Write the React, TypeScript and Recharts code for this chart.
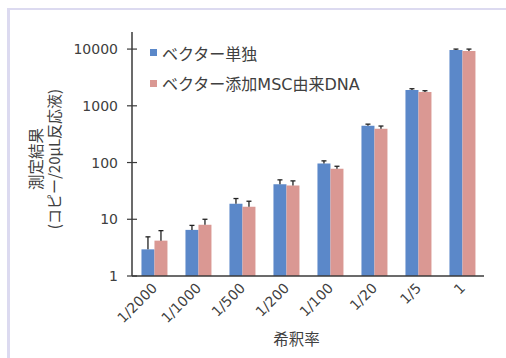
import React from 'react';
import { BarChart, Bar, XAxis, YAxis, Legend } from 'recharts';

const categories = ['1/2000', '1/1000', '1/500', '1/200', '1/100', '1/20', '1/5', '1'];
const vectorOnly = [2.95, 6.5, 18.8, 41.5, 96, 445, 1890, 9600];
const vectorOnlyErr = [1.95, 1.3, 4.4, 8, 11, 30, 110, 400];
const vectorMsc = [4.2, 8.0, 16.6, 39.4, 77.5, 395, 1745, 9220];
const vectorMscErr = [2.1, 2.0, 4.2, 8.1, 8.5, 45, 100, 780];
const yTicks = [1, 10, 100, 1000, 10000];
const seriesNames = ['ベクター単独', 'ベクター添加MSC由来DNA'];
const seriesColors = ['#5b88c9', '#da9893'];
const yLabelLines = ['測定結果', '(コピー/20μL反応液)'];
const xLabel = '希釈率';

const data = categories.map((name, i) => ({
  name,
  a: vectorOnly[i],
  b: vectorMsc[i],
  aErr: [vectorOnly[i], vectorOnly[i] + vectorOnlyErr[i]],
  bErr: [vectorMsc[i], vectorMsc[i] + vectorMscErr[i]],
}));

const TEXT = '#404040';
const AXIS = '#3a3a3a';
const NUM_FONT = '"DejaVu Sans", sans-serif';
const JP_FONT = '"Noto Sans CJK JP", "Noto Sans", sans-serif';
const MIX_FONT = '"DejaVu Sans", "Noto Sans CJK JP", sans-serif';

const YTick = (props: any) => {
  const { x, y, payload } = props;
  return (
    <g>
      <line x1={x - 5} x2={x + 5} y1={y} y2={y} stroke={AXIS} strokeWidth={1.2} />
      <text x={x - 14} y={y} dy="0.36em" textAnchor="end" fill={TEXT} fontSize={14} fontFamily={NUM_FONT}>
        {payload.value}
      </text>
    </g>
  );
};

const XTick = (props: any) => {
  const { x, y, payload } = props;
  const tx = x + 4;
  const ty = y + 13;
  return (
    <text x={tx} y={ty} textAnchor="end" fill={TEXT} fontSize={14} fontFamily={NUM_FONT} transform={`rotate(-45, ${tx}, ${ty})`}>
      {payload.value}
    </text>
  );
};

const ErrShape = (props: any) => {
  const { x, y, width, height } = props;
  if (x == null || y == null) return null;
  const cx = x + width / 2;
  return (
    <g>
      <line x1={cx} x2={cx} y1={y} y2={y + height} stroke="#222" strokeWidth={1.3} />
      <line x1={cx - 2.5} x2={cx + 2.5} y1={y} y2={y} stroke="#222" strokeWidth={1.3} />
    </g>
  );
};

const YLabel = (props: any) => {
  const vb = props.viewBox || { x: 0, y: 32, width: 132, height: 244 };
  const cy = vb.y + vb.height / 2 + 5;
  const xs = [34.5, 53.5];
  return (
    <g>
      {yLabelLines.map((t, i) => (
        <text key={i} x={xs[i]} y={cy} textAnchor="middle" dominantBaseline="central" fill={TEXT} fontSize={i === 0 ? 15.5 : 15} fontFamily={JP_FONT} transform={`rotate(-90, ${xs[i]}, ${cy})`}>
          {t}
        </text>
      ))}
    </g>
  );
};

const XLabel = (props: any) => {
  const vb = props.viewBox;
  const cx = vb.x + vb.width / 2 - 11.5;
  return (
    <text x={cx} y={345} textAnchor="middle" fill={TEXT} fontSize={15.5} fontFamily={JP_FONT}>
      {xLabel}
    </text>
  );
};

const LegendContent = () => (
  <div style={{ fontFamily: MIX_FONT, fontSize: 16, color: TEXT }}>
    {seriesNames.map((n, i) => (
      <div key={n} style={{ display: 'flex', alignItems: 'center', height: 30.6, whiteSpace: 'nowrap' }}>
        <span style={{ display: 'inline-block', width: 7, height: 7, background: seriesColors[i], marginRight: 5 }} />
        <span>{n}</span>
      </div>
    ))}
  </div>
);

export default function App() {
  return (
    <div style={{ position: 'fixed', left: 0, top: 0, width: 506, height: 358, background: '#fff', overflow: 'hidden' }}>
      <div style={{ position: 'absolute', left: 7, top: 8, width: 560, height: 420, borderTop: '2px solid #dcdaf0', borderLeft: '3px solid #dcdaf0' }} />
      <div style={{ position: 'absolute', left: 0, top: 0 }}>
        <BarChart width={506} height={358} data={data} margin={{ top: 32, right: 22, bottom: 0, left: 0 }} barCategoryGap="21.5%" barGap={0}>
          <XAxis dataKey="name" height={82} tickLine={false} tickSize={0} tickMargin={0} tick={<XTick />} axisLine={{ stroke: AXIS, strokeWidth: 1.5 }} interval={0} label={<XLabel />} />
          <XAxis xAxisId="err" dataKey="name" orientation="top" height={0} tick={false} tickLine={false} axisLine={{ stroke: AXIS, strokeWidth: 1.2 }} />
          <YAxis scale="log" type="number" domain={[1, 20000]} allowDataOverflow ticks={yTicks} width={132} tickLine={false} tickSize={0} tickMargin={0} tick={<YTick />} axisLine={{ stroke: AXIS, strokeWidth: 1.5 }} label={<YLabel />} />
          <YAxis yAxisId="right" orientation="right" type="number" domain={[1, 20000]} width={0} tick={false} tickLine={false} axisLine={{ stroke: AXIS, strokeWidth: 1.2 }} />
          <Legend layout="vertical" align="center" verticalAlign="middle" content={<LegendContent />} wrapperStyle={{ position: 'absolute', left: 150, top: 37.4, width: 260, height: 62 }} />
          <Bar dataKey="a" name={seriesNames[0]} fill={seriesColors[0]} isAnimationActive={false} />
          <Bar dataKey="b" name={seriesNames[1]} fill={seriesColors[1]} isAnimationActive={false} />
          <Bar xAxisId="err" dataKey="aErr" legendType="none" fill="none" shape={<ErrShape />} isAnimationActive={false} />
          <Bar xAxisId="err" dataKey="bErr" legendType="none" fill="none" shape={<ErrShape />} isAnimationActive={false} />
        </BarChart>
      </div>
    </div>
  );
}
